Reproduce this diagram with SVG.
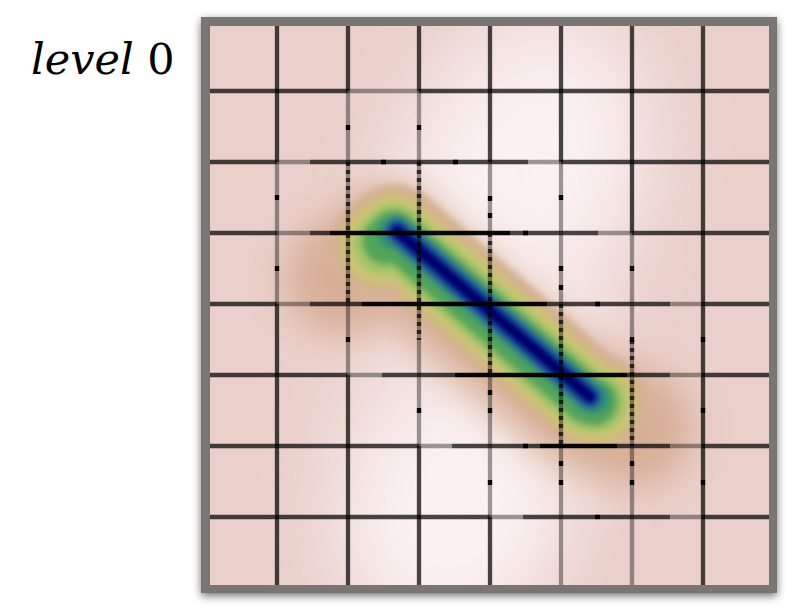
<svg xmlns="http://www.w3.org/2000/svg" width="795" height="611" viewBox="0 0 795 611">
<style>
.d{stroke:#000;stroke-opacity:.72;stroke-width:4.3;fill:none}
.l{stroke:#000;stroke-opacity:.38;stroke-width:4.3;fill:none}
.k{stroke:#000;stroke-opacity:.97;stroke-width:4.3;fill:none}
.s{stroke:#000;stroke-opacity:.7;stroke-width:4.3;fill:none;stroke-dasharray:4 4}
.ring{fill:none;stroke-linecap:round;stroke-linejoin:round}
.lbl{font-family:"DejaVu Serif","Liberation Serif",serif;font-size:43px;fill:#000}
</style>
<defs>
<filter id="shadow" x="-10%" y="-10%" width="120%" height="120%">
<feGaussianBlur in="SourceAlpha" stdDeviation="4"/>
<feOffset dx="0" dy="3" result="b"/>
<feComponentTransfer><feFuncA type="linear" slope="0.55"/></feComponentTransfer>
<feMerge><feMergeNode/><feMergeNode in="SourceGraphic"/></feMerge>
</filter>
<filter id="blurBig" filterUnits="userSpaceOnUse" x="100" y="-100" width="800" height="800"><feGaussianBlur stdDeviation="45"/></filter>
<filter id="blurMid" filterUnits="userSpaceOnUse" x="100" y="-100" width="800" height="800"><feGaussianBlur stdDeviation="18"/></filter>
<filter id="blurS" filterUnits="userSpaceOnUse" x="200" y="20" width="580" height="580"><feGaussianBlur stdDeviation="3"/></filter>
<clipPath id="inner"><rect x="210" y="26" width="559" height="559"/></clipPath>
</defs>

<g id="label">
<text class="lbl" x="31" y="74"><tspan font-style="italic">level</tspan> 0</text>
</g>

<g id="frame">
<rect x="201" y="17" width="576" height="576" fill="#787473" filter="url(#shadow)"/>
</g>

<g id="heatmap" clip-path="url(#inner)">
<rect x="210" y="26" width="559" height="559" fill="#eacfca"/>
<ellipse cx="522" cy="175" rx="100" ry="150" transform="rotate(25 522 175)" fill="#fefafa" opacity="0.97" filter="url(#blurBig)"/>
<ellipse cx="455" cy="505" rx="100" ry="130" transform="rotate(15 455 505)" fill="#fefafa" opacity="0.97" filter="url(#blurBig)"/>
<ellipse cx="485" cy="300" rx="120" ry="320" transform="rotate(12 485 300)" fill="#f6eaea" opacity="0.45" filter="url(#blurBig)"/>
<path class="ring" d="M350 270 L395 237 L585 400 L640 420" stroke="#d5ab92" stroke-width="118" opacity="0.9" filter="url(#blurMid)" transform="translate(-6 8)"/>
<ellipse cx="545" cy="265" rx="95" ry="22" transform="rotate(40.7 545 265)" fill="#f6e8e6" opacity="0.55" filter="url(#blurMid)"/>
<g filter="url(#blurS)">
<g transform="translate(-3 3)">
<path class="ring" d="M382 244 L397 231 L590 397 L601 400" stroke="#d5b296" stroke-width="100"/>
<path class="ring" d="M383 243 L397 231 L590 397 L601 400" stroke="#cfb582" stroke-width="86"/>
<path class="ring" d="M384 242 L397 231 L590 397 L600 400" stroke="#cdc476" stroke-width="76"/>
<path class="ring" d="M386 241 L397 231 L590 397 L599 399" stroke="#a4c468" stroke-width="62"/>
<path class="ring" d="M389 238 L397 231 L590 397 L597 399" stroke="#52a45a" stroke-width="48"/>
</g>
<path class="ring" d="M393 234 L397 231 L590 397 L594 398" stroke="#33906f" stroke-width="32"/>
<path class="ring" d="M397 231 L590 397" stroke="#2866a2" stroke-width="24"/>
<path class="ring" d="M397 231 L590 397" stroke="#12289b" stroke-width="19"/>
<path class="ring" d="M397 231 L590 397" stroke="#000488" stroke-width="15"/>
<path class="ring" d="M397 231 L590 397" stroke="#000058" stroke-width="7"/>
</g>
</g>

<g id="grid">
<!-- horizontal lines -->
<path class="d" d="M210 91H348M419 91H769"/>
<path class="l" d="M348 91H419"/>
<path class="d" d="M210 162H277M310 162H528M561 162H769"/>
<path class="l" d="M277 162H310M528 162H561"/>
<path class="k" d="M381 162H386M453 162H458"/>
<path class="d" d="M210 233H277M310 233H330M510 233H598M632 233H769"/>
<path class="l" d="M277 233H310M598 233H632"/>
<path class="k" d="M330 233H510M523 233H528"/>
<path class="d" d="M210 304H277M310 304H362M547 304H670M702 304H769"/>
<path class="l" d="M277 304H310M670 304H702"/>
<path class="k" d="M362 304H547M595 304H600"/>
<path class="d" d="M210 375H347M382 375H455M627 375H670M702 375H769"/>
<path class="l" d="M347 375H382M670 375H702"/>
<path class="k" d="M455 375H627"/>
<path class="d" d="M210 446H419M452 446H540M617 446H670M702 446H769"/>
<path class="l" d="M419 446H452M670 446H702"/>
<path class="k" d="M540 446H617M523 446H528"/>
<path class="d" d="M210 517H490M523 517H670M702 517H769"/>
<path class="l" d="M490 517H523M670 517H702"/>
<path class="k" d="M595 517H600"/>
<!-- vertical lines -->
<path class="d" d="M277 26V162M277 304V585"/>
<path class="l" d="M277 162V304"/>
<path class="k" d="M277 195V200M277 266V271"/>
<path class="d" d="M348 26V91M348 375V585"/>
<path class="l" d="M348 91V375"/>
<path class="s" d="M348 162V304"/>
<path class="k" d="M348 125V130M348 337V342"/>
<path class="d" d="M419 26V91M419 446V585"/>
<path class="l" d="M419 91V446"/>
<path class="s" d="M419 162V340"/>
<path class="k" d="M419 125V130M419 408V413"/>
<path class="d" d="M490 26V162M490 517V585"/>
<path class="l" d="M490 162V517"/>
<path class="s" d="M490 233V375"/>
<path class="k" d="M490 196V201M490 213V218M490 390V395M490 408V413M490 480V485"/>
<path class="d" d="M561 26V162"/>
<path class="l" d="M561 162V585"/>
<path class="s" d="M561 304V446"/>
<path class="k" d="M561 195V200M561 266V271M561 285V290M561 461V466M561 480V485"/>
<path class="d" d="M632 26V233"/>
<path class="l" d="M632 233V585"/>
<path class="s" d="M632 340V446"/>
<path class="k" d="M632 266V271M632 337V342M632 461V466M632 480V485"/>
<path class="d" d="M703 26V585"/>
<path class="k" d="M703 337V342M703 408V413M703 480V485"/>
</g>
</svg>
